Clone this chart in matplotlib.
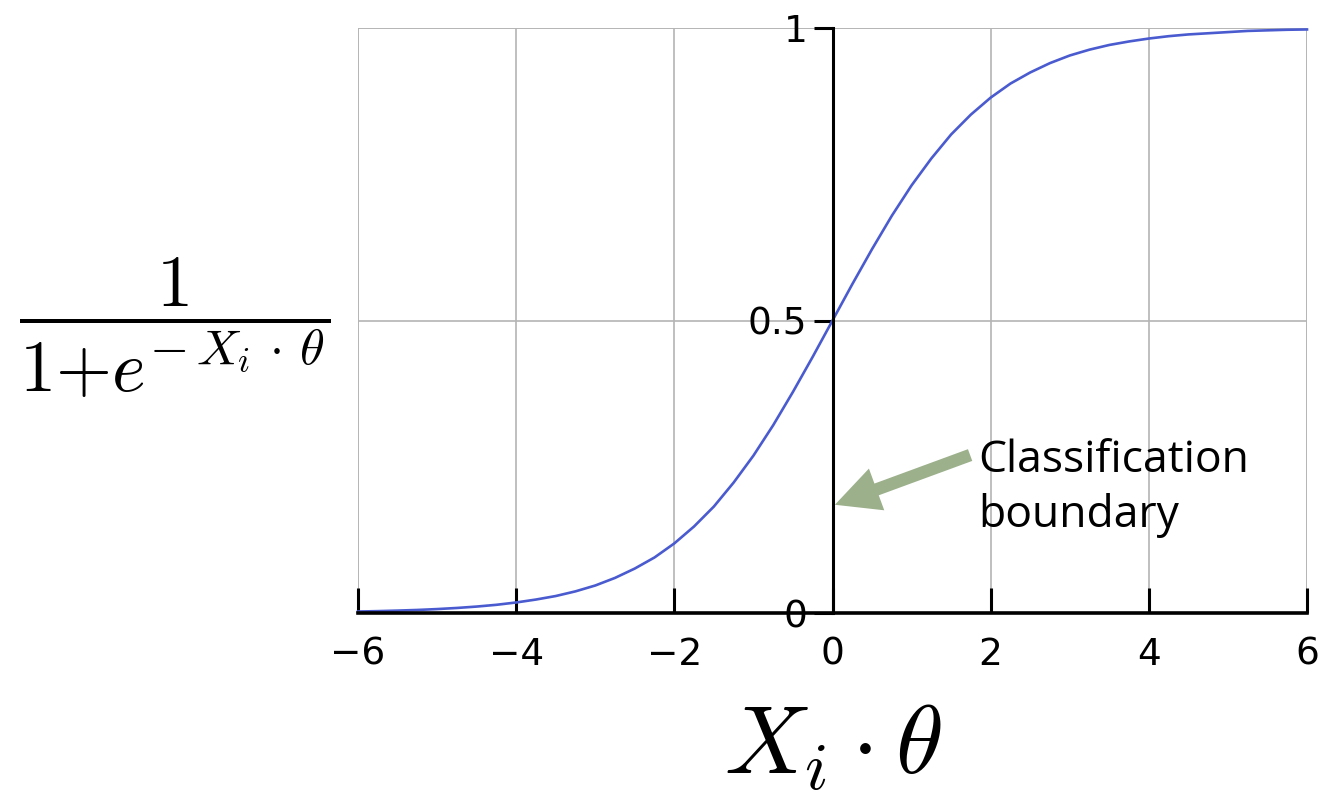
import matplotlib
matplotlib.use('Agg')
import matplotlib.pyplot as plt

# values
x_vals = [-6, -5.75, -5.5, -5.25, -5, -4.75, -4.5, -4.25, -4, -3.75, -3.5,
          -3.25, -3, -2.75, -2.5, -2.25, -2, -1.75, -1.5, -1.25, -1, -0.75,
          -0.5, -0.25, 0, 0.25, 0.5, 0.75, 1, 1.25, 1.5, 1.75, 2, 2.25, 2.5,
          2.75, 3, 3.25, 3.5, 3.75, 4, 4.25, 4.5, 4.75, 5, 5.25, 5.5, 5.75, 6]
y_vals = [0.0025, 0.0032, 0.0041, 0.0052, 0.0067, 0.0086, 0.011, 0.014,
          0.018, 0.023, 0.029, 0.037, 0.047, 0.060, 0.076, 0.095, 0.119,
          0.148, 0.182, 0.223, 0.269, 0.321, 0.378, 0.438, 0.5, 0.562, 0.622,
          0.679, 0.731, 0.777, 0.818, 0.852, 0.881, 0.905, 0.924, 0.940,
          0.953, 0.963, 0.971, 0.977, 0.982, 0.986, 0.989, 0.991, 0.993,
          0.995, 0.996, 0.997, 0.9975]
x_ticks = [-6, -4, -2, 0, 2, 4, 6]
x_ticklabels = ['\u22126', '\u22124', '\u22122', '0', '2', '4', '6']
y_ticks = [0, 0.5, 1]
y_ticklabels = ['0', '0.5', '1']
note_text = 'Classification\nboundary'
note_tip = (0.03, 0.185)
note_tail = (1.74, 0.27)

plt.rcParams['mathtext.fontset'] = 'cm'

fig = plt.figure(figsize=(13.24, 7.94), dpi=100)
ax = fig.add_axes([358/1324, 181/794, 949/1324, 585/794])

ax.plot(x_vals, y_vals, color='#4a5bd0', lw=1.9, zorder=3, clip_on=False)

ax.set_xlim(-6, 6)
ax.set_ylim(0, 1)
ax.set_xticks(x_ticks)
ax.set_xticklabels(x_ticklabels)
ax.set_yticks(y_ticks)
ax.set_yticklabels(y_ticklabels)

ax.grid(True, color='#b4b4b4', lw=1.2, zorder=0)
ax.set_axisbelow(True)

for s in ['top', 'right']:
    ax.spines[s].set_visible(False)
ax.spines['left'].set_position(('data', 0))
ax.spines['left'].set_linewidth(2.2)
ax.spines['bottom'].set_linewidth(2.6)
ax.spines['left'].set_zorder(4)
ax.spines['bottom'].set_zorder(4)

# grid lines at the outer frame
ax.axvline(-6, color='#b4b4b4', lw=1.2, zorder=0)
ax.axvline(6, color='#b4b4b4', lw=1.2, zorder=0)
ax.axhline(1, color='#b4b4b4', lw=1.2, zorder=0)

ax.tick_params(axis='x', direction='in', length=18, width=2.2, pad=17,
               labelsize=27)
ax.tick_params(axis='y', direction='out', length=14, width=2.2, pad=4,
               labelsize=27)

ax.annotate('', xy=note_tip, xytext=note_tail,
            arrowprops=dict(facecolor='#9cb08c', edgecolor='none', width=9,
                            headwidth=32, headlength=32, shrink=0))
ax.text(note_tail[0] + 0.1, 0.213, note_text, fontsize=32, family='Open Sans',
        ha='left', va='center', linespacing=1.3)

fig.text(175/1324, 1 - 328/794,
         r'$\dfrac{1}{1{+}e^{-\,X_i\,\cdot\,\theta}}$',
         fontsize=52, ha='center', va='center')
fig.text(833/1324, 1 - 747/794, r'$X_i\cdot\theta$', fontsize=70,
         ha='center', va='center')

fig.savefig('out.png', dpi=100)
